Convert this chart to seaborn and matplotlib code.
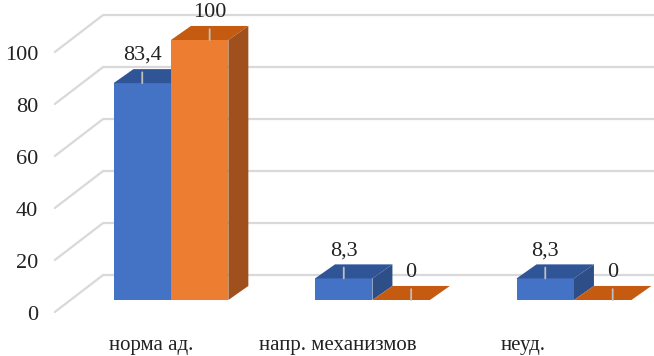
import numpy as np
import pandas as pd
import matplotlib
matplotlib.use('Agg')
import matplotlib.pyplot as plt
import matplotlib.transforms as mtransforms
from matplotlib.patches import Polygon
import seaborn as sns

categories = ['норма ад.', 'напр. механизмов', 'неуд.']
series_names = ['Ряд 1', 'Ряд 2']
series1 = [83.4, 8.3, 8.3]
series2 = [100, 0, 0]
value_labels = {'Ряд 1': ['83,4', '8,3', '8,3'], 'Ряд 2': ['100', '0', '0']}
yticks = [0, 20, 40, 60, 80, 100]

df = pd.DataFrame({
    'cat': categories * 2,
    'val': series1 + series2,
    'series': [series_names[0]] * 3 + [series_names[1]] * 3,
})

# colours: front / top / side
front = {'Ряд 1': '#4472C4', 'Ряд 2': '#ED7D31'}
top_c = {'Ряд 1': '#2F5597', 'Ряд 2': '#C55A11'}
side_c = {'Ряд 1': '#2E4E88', 'Ряд 2': '#A0501C'}
grid_c = '#D9D9D9'

sns.set_theme(style='white')
plt.rcParams['font.family'] = ['Liberation Serif', 'DejaVu Serif']

fig = plt.figure(figsize=(6.54, 3.56), dpi=100)
ax = fig.add_axes([70 / 654, 56 / 356, 584 / 654, 260 / 356])

sns.barplot(data=df, x='cat', y='val', hue='series', palette=list(front.values()),
            width=0.57, saturation=1, legend=False, ax=ax, zorder=2)

ax.set_xlim(-0.501, 2.397)
ax.set_ylim(0, 100)
sns.despine(ax=ax, left=True, bottom=True)

# pseudo-3d depth (data units)
DX, DY = 0.099, 5.4
# back wall and front floor offsets for the grid
wall_x, wall_dy = -0.337, 9.6
floor_x, floor_dy = -0.576, -4.6
for v in yticks:
    ax.plot([wall_x, 2.397], [v + wall_dy, v + wall_dy], color=grid_c, lw=1.6,
            zorder=0, clip_on=False, solid_capstyle='butt')
    ax.plot([floor_x, wall_x], [v + floor_dy, v + wall_dy], color=grid_c, lw=1.6,
            zorder=0, clip_on=False)

bars = [p for p in ax.patches if p.get_width() > 0]
for i, p in enumerate(bars):
    s = series_names[i // len(categories)]
    j = i % len(categories)
    x0, w, h = p.get_x(), p.get_width(), p.get_height()
    z = 2 + i // len(categories)
    p.set_zorder(z)
    p.set_edgecolor('none')
    ax.add_patch(Polygon([(x0, h), (x0 + w, h), (x0 + w + DX, h + DY), (x0 + DX, h + DY)],
                         closed=True, facecolor=top_c[s], edgecolor='none', zorder=z, clip_on=False))
    if h > 0:
        ax.add_patch(Polygon([(x0 + w, 0), (x0 + w + DX, DY), (x0 + w + DX, h + DY), (x0 + w, h)],
                             closed=True, facecolor=side_c[s], edgecolor='none', zorder=z, clip_on=False))
    xc = x0 + w / 2 + DX * (0.0 if s == series_names[0] else 0.5)
    ax.annotate(value_labels[s][j], xy=(xc, h), xytext=(0, 20),
                textcoords='offset points', ha='center', va='center', fontsize=16,
                color='#222222', zorder=5, annotation_clip=False,
                arrowprops=dict(arrowstyle='-', color='#BFBFBF', lw=1.3,
                                shrinkA=3, shrinkB=0))

ax.set_xlabel('')
ax.set_ylabel('')
ax.set_yticks(yticks)
ax.set_yticklabels([str(v) for v in yticks])
ax.tick_params(axis='y', length=0, pad=23, labelsize=16, labelcolor='#222222')
ax.tick_params(axis='x', length=0, pad=26, labelsize=15, labelcolor='#222222')

down = mtransforms.ScaledTranslation(0, -0.125, fig.dpi_scale_trans)
for lab in ax.get_yticklabels():
    lab.set_transform(lab.get_transform() + down)
shifts = [-0.20, -0.35, -0.51]
for lab, sh in zip(ax.get_xticklabels(), shifts):
    lab.set_transform(lab.get_transform() + mtransforms.ScaledTranslation(sh, 0, fig.dpi_scale_trans))

fig.savefig('out.png', dpi=100, facecolor='white')
